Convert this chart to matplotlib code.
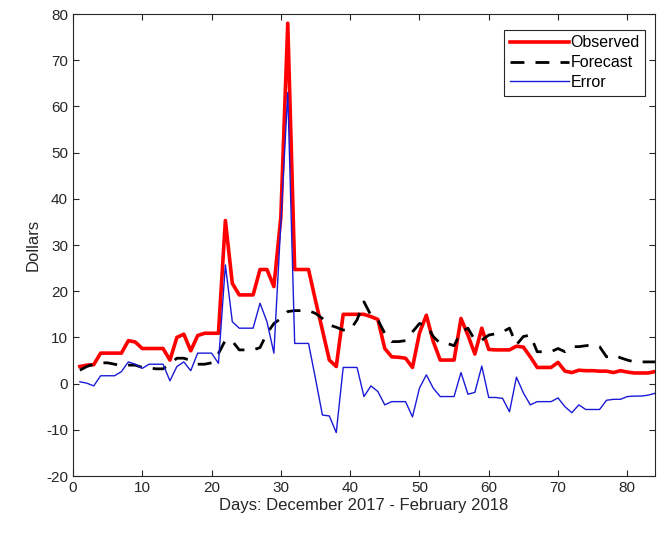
import matplotlib
matplotlib.use("Agg")
import matplotlib.pyplot as plt

plt.rcParams['font.family'] = ['Liberation Sans', 'DejaVu Sans']
plt.rcParams['axes.unicode_minus'] = False

days = list(range(1, 85))

observed = [3.7, 4.0, 4.1, 6.6, 6.6, 6.6, 6.6, 9.3, 9.0, 7.6,
            7.6, 7.6, 7.6, 5.1, 10.0, 10.7, 7.1, 10.4, 10.9, 10.9,
            10.9, 35.3, 21.7, 19.2, 19.2, 19.2, 24.7, 24.7, 21.0, 36.0,
            78.0, 24.7, 24.7, 24.7, 18.0, 11.6, 5.1, 3.7, 15.0, 15.0,
            15.0, 15.0, 14.5, 13.9, 7.6, 5.8, 5.7, 5.5, 3.5, 10.9,
            14.8, 9.1, 5.1, 5.1, 5.1, 14.1, 10.5, 6.4, 12.0, 7.4,
            7.3, 7.3, 7.3, 8.1, 7.9, 5.8, 3.5, 3.5, 3.5, 4.6,
            2.7, 2.4, 2.9, 2.8, 2.8, 2.7, 2.7, 2.4, 2.8, 2.5,
            2.3, 2.3, 2.3, 2.6]

forecast = [2.9, 3.7, 4.2, 4.5, 4.5, 4.2, 3.9, 4.0, 4.0, 3.5,
            3.4, 3.2, 3.2, 4.2, 5.5, 5.5, 5.0, 4.2, 4.2, 4.5,
            6.5, 9.4, 9.2, 7.3, 7.3, 7.3, 7.8, 10.9, 13.0, 14.1,
            15.6, 15.8, 15.8, 15.8, 15.2, 14.1, 12.7, 12.2, 11.6, 11.6,
            13.8, 17.7, 14.8, 13.8, 10.9, 9.1, 9.1, 9.3, 11.2, 13.0,
            12.7, 10.2, 8.7, 8.7, 8.2, 11.2, 12.0, 9.4, 9.4, 10.5,
            10.8, 11.2, 12.0, 8.4, 10.2, 10.5, 6.9, 6.9, 6.9, 7.6,
            6.9, 8.0, 8.0, 8.2, 8.4, 8.0, 5.8, 6.2, 5.6, 5.1,
            4.7, 4.7, 4.7, 4.7]

error = [0.4, 0.1, -0.5, 1.7, 1.7, 1.7, 2.6, 4.7, 4.2, 3.3,
         4.2, 4.2, 4.2, 0.6, 3.7, 4.7, 2.8, 6.6, 6.6, 6.6,
         4.4, 25.7, 13.4, 12.0, 12.0, 12.0, 17.4, 13.4, 6.6, 34.7,
         63.0, 8.7, 8.7, 8.7, 1.1, -6.8, -7.0, -10.6, 3.5, 3.5,
         3.5, -2.8, -0.5, -1.7, -4.6, -3.9, -3.9, -3.9, -7.2, -1.0,
         1.9, -1.0, -2.8, -2.8, -2.8, 2.4, -2.3, -1.9, 3.8, -3.0,
         -3.0, -3.2, -6.1, 1.4, -2.0, -4.6, -3.9, -3.9, -3.9, -3.1,
         -5.0, -6.3, -4.6, -5.6, -5.6, -5.6, -3.6, -3.4, -3.4, -2.8,
         -2.7, -2.7, -2.5, -2.1]

fig = plt.figure(figsize=(6.57, 5.40), dpi=100)
ax = fig.add_axes([0.111, 0.1185, 0.886, 0.8555])

ax.plot(days, observed, color='#ff0000', linewidth=2.6, label='Observed')
ax.plot(days, forecast, color='black', linewidth=2.0, linestyle=(0, (5, 4)), label='Forecast')
ax.plot(days, error, color='#1a1ad8', linewidth=1.0, label='Error')

ax.set_xlim(0, 84)
ax.set_ylim(-20, 80)
ax.set_xticks(range(0, 81, 10))
ax.set_yticks(range(-20, 81, 10))

ax.tick_params(direction='in', top=True, right=True, labelsize=11, colors='#262626', length=4)
for s in ax.spines.values():
    s.set_color('#262626')
    s.set_linewidth(0.8)

ax.set_xlabel('Days: December 2017 - February 2018', fontsize=12, color='#262626', labelpad=2)
ax.set_ylabel('Dollars', fontsize=12, color='#262626', labelpad=4)

leg = ax.legend(loc='upper right', fontsize=11.5, handlelength=3.7, handletextpad=0.1,
                borderpad=0.35, borderaxespad=0, labelspacing=0.3, fancybox=False,
                framealpha=1, bbox_to_anchor=(0.983, 0.966))
leg.get_frame().set_edgecolor('#262626')
leg.get_frame().set_linewidth(0.8)

fig.savefig('out.png', dpi=100)
